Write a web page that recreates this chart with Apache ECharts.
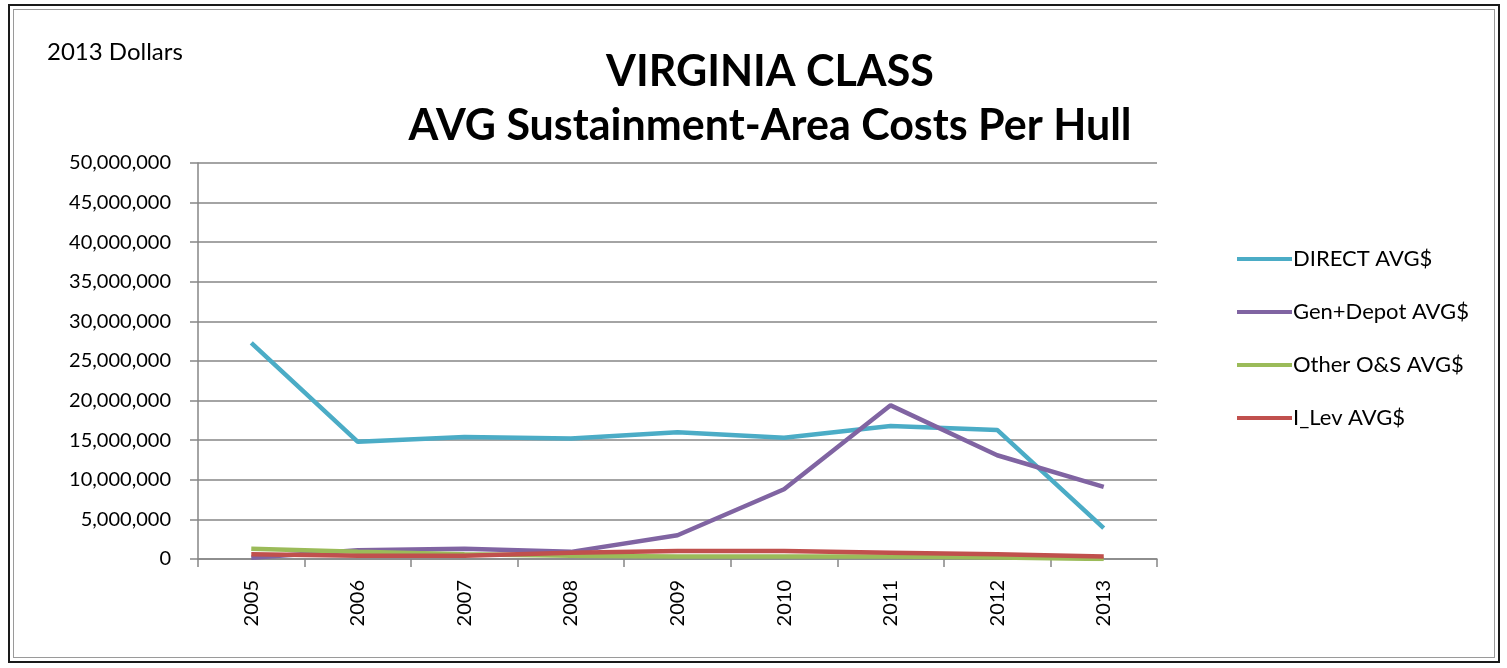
<!DOCTYPE html>
<html>
<head>
<meta charset="utf-8">
<script src="https://cdn.jsdelivr.net/npm/echarts@6/dist/echarts.min.js"></script>
<style>
  html, body { margin: 0; padding: 0; background: #fff; }
  #frame { position: absolute; left: 8px; top: 4px; width: 1488px; height: 655px; border: 2px solid #1a1a1a; }
  #inner { position: absolute; left: 3px; top: 3px; right: 3px; bottom: 3px; border: 1px solid #9a9a9a; }
  #chart { position: absolute; left: 0; top: 0; width: 1507px; height: 668px; }
</style>
</head>
<body>
<div id="frame"><div id="inner"></div></div>
<div id="chart"></div>
<script>
// categories and series values (2013 dollars)
const years = ['2005', '2006', '2007', '2008', '2009', '2010', '2011', '2012', '2013'];
const directAvg = [27300000, 14800000, 15400000, 15200000, 16000000, 15300000, 16800000, 16300000, 3900000];
const genDepotAvg = [150000, 1100000, 1300000, 900000, 3000000, 8800000, 19400000, 13100000, 9100000];
const otherOSAvg = [1300000, 900000, 600000, 400000, 300000, 300000, 300000, 200000, 0];
const iLevAvg = [600000, 400000, 400000, 800000, 1000000, 1000000, 800000, 600000, 300000];

const FONT = 'Lato, "Open Sans", sans-serif';
const ec = echarts.init(document.getElementById('chart'));

function line (name, data, color) {
    return {
        name, type: 'line', data,
        showSymbol: false, symbol: 'none',
        lineStyle: { width: 4.5, color },
        itemStyle: { color },
        animation: false
    };
}

ec.setOption({
    backgroundColor: 'transparent',
    textStyle: { fontFamily: FONT },
    title: [
        { text: 'VIRGINIA CLASS\nAVG Sustainment-Area Costs Per Hull', left: 765, top: 40, textAlign: 'center',
          textStyle: { fontSize: 43, fontWeight: 'bold', color: '#000', lineHeight: 54, fontFamily: FONT } },
        { text: '2013 Dollars', left: 42, top: 35, textStyle: { fontSize: 24, fontWeight: 'normal', color: '#000', fontFamily: FONT } }
    ],
    legend: {
        orient: 'vertical', left: 1232, top: 243,
        itemWidth: 55, itemHeight: 4, itemGap: 31, icon: 'rect',
        textStyle: { fontSize: 22, color: '#000', lineHeight: 22, padding: [0, 0, 0, -4] },
        data: ['DIRECT AVG$', 'Gen+Depot AVG$', 'Other O&S AVG$', 'I_Lev AVG$']
    },
    grid: { left: 198, top: 163, right: 350, bottom: 109, containLabel: false },
    xAxis: {
        type: 'category', data: years, boundaryGap: true,
        axisLine: { lineStyle: { color: '#868686', width: 1.5 } },
        axisTick: { show: true, length: 8, lineStyle: { color: '#868686', width: 1.5 } },
        axisLabel: { rotate: 90, color: '#000', fontSize: 20, margin: 21 }
    },
    yAxis: {
        type: 'value', min: 0, max: 50000000, interval: 5000000,
        axisLine: { show: true, lineStyle: { color: '#868686', width: 1.5 } },
        axisTick: { show: true, length: 8, lineStyle: { color: '#868686', width: 1.5 } },
        axisLabel: { color: '#000', fontSize: 20, margin: 27,
                     formatter: v => v.toLocaleString('en-US') },
        splitLine: { show: true, lineStyle: { color: '#868686', width: 1.5 } }
    },
    series: [
        line('DIRECT AVG$', directAvg, '#4bacc6'),
        line('Gen+Depot AVG$', genDepotAvg, '#8064a2'),
        line('Other O&S AVG$', otherOSAvg, '#9bbb59'),
        line('I_Lev AVG$', iLevAvg, '#c0504d')
    ]
});
</script>
</body>
</html>
